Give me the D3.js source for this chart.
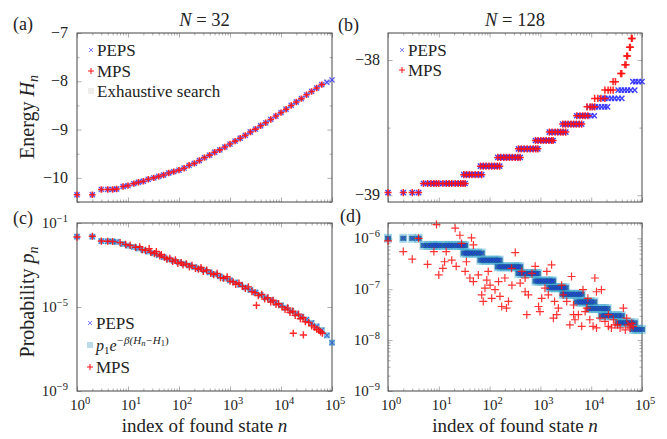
<!DOCTYPE html>
<html>
<head>
<meta charset="utf-8">
<script src="https://cdn.jsdelivr.net/npm/d3@7"></script>
<style>
body { margin: 0; background: #fff; }
</style>
</head>
<body>
<svg id="fig" width="667" height="439" font-family="'Liberation Serif', 'DejaVu Serif', serif"></svg>
<script>
// ---- values ----

// N = 32: index n of found state, shared by panels (a) and (c)
const nSmall = [1, 2, 3, 4, 5, 6, 8, 10, 13, 16, 20, 25, 32, 40, 50, 63, 79, 100, 126, 158,
	200, 251, 316, 398, 501, 631, 794, 1000, 1259, 1585, 1995, 2512, 3162, 3981, 5012, 6310,
	7943, 10000, 12589, 15849, 19953, 25119, 31623, 39811, 50119, 63096, 79433, 100000];
// energy H_n of those states (exhaustive search, PEPS agrees)
const energySmall = [-10.35, -10.35, -10.24, -10.24, -10.24, -10.23, -10.18, -10.16, -10.12, -10.09,
	-10.07, -10.03, -10.0, -9.97, -9.94, -9.9, -9.87, -9.84, -9.8, -9.74, -9.7, -9.64, -9.58, -9.53,
	-9.47, -9.42, -9.36, -9.3, -9.24, -9.18, -9.12, -9.05, -8.99, -8.92, -8.86, -8.79, -8.72, -8.65,
	-8.58, -8.5, -8.43, -8.36, -8.28, -8.21, -8.14, -8.07, -8.02, -7.97];
// log10 of p1 e^{-beta(H_n - H_1)} for those states
const logPSmall = [-1.65, -1.65, -1.86, -1.87, -1.88, -1.9, -2.0, -2.08, -2.14, -2.21, -2.29, -2.36,
	-2.44, -2.53, -2.63, -2.73, -2.8, -2.87, -2.94, -3.02, -3.1, -3.17, -3.25, -3.35, -3.44, -3.54,
	-3.64, -3.73, -3.83, -3.94, -4.07, -4.19, -4.31, -4.43, -4.55, -4.67, -4.8, -4.92, -5.04, -5.18,
	-5.32, -5.46, -5.6, -5.76, -5.92, -6.1, -6.35, -6.7];
// MPS stops a bit earlier than PEPS for N = 32
const mpsMaxNSmall = 63096;
// MPS sampled probabilities for N = 32: [n, log10 p]
const mpsProbSmall = [[1, -1.67], [2, -1.63], [3, -1.86], [4, -1.87], [5, -1.88], [7, -1.93], [9, -2.02],
	[11, -2.07], [14, -2.16], [17, -2.13], [19, -2.27], [22, -2.3], [26, -2.22], [28, -2.4], [33, -2.46],
	[36, -2.36], [42, -2.57], [45, -2.5], [52, -2.64], [58, -2.72], [66, -2.68], [75, -2.83], [85, -2.76],
	[95, -2.92], [110, -2.88], [120, -3.0], [140, -2.95], [160, -3.09], [180, -3.02], [210, -3.16],
	[240, -3.2], [270, -3.12], [300, -3.3], [350, -3.24], [420, -3.4], [480, -3.46], [560, -3.4],
	[650, -3.6], [750, -3.63], [880, -3.56], [1000, -3.77], [1150, -3.8], [1300, -3.92], [1500, -3.86],
	[1750, -4.02], [2000, -4.12], [2300, -4.04], [2700, -4.27], [3100, -4.32], [3300, -4.92], [3600, -4.46],
	[4200, -4.4], [4800, -4.62], [5500, -4.56], [6300, -4.76], [7000, -4.68], [8000, -4.88], [9000, -4.84],
	[10500, -5.0], [12000, -5.12], [13500, -5.04], [15000, -5.26], [17000, -5.2], [17400, -6.25],
	[19000, -5.4], [22000, -5.34], [24000, -5.56], [27000, -5.5], [27500, -6.33], [30000, -5.7],
	[35000, -5.74], [40000, -5.9], [45000, -5.96], [50000, -6.06], [55000, -6.1], [60000, -6.18], [65000, -6.25]];

// N = 128: degenerate energy levels
const levelEnergyBig = [-38.98, -38.913, -38.848, -38.785, -38.72, -38.657, -38.595, -38.533, -38.474,
	-38.412, -38.346, -38.284, -38.222, -38.16, -38.1, -38.035, -37.97, -37.906, -37.84];
// log10 of p1 e^{-beta(H_n - H_1)} for the levels PEPS reached
const levelLogPBig = [-6.0, -6.14, -6.29, -6.43, -6.56, -6.69, -6.84, -6.97, -7.1, -7.25, -7.38, -7.52, -7.66, -7.79];
// state indices found by PEPS, per level
const pepsLevelNBig = [
	[1, 2, 3, 4],
	[5, 6, 7, 8, 9, 10, 12, 14, 16, 18, 21, 24, 27, 30, 33],
	[31, 35, 40, 45, 52, 60, 70],
	[66, 75, 85, 97, 110, 125, 142, 158],
	[145, 165, 190, 215, 245, 280, 320, 360, 400],
	[370, 420, 480, 550, 630, 720, 810, 890],
	[800, 900, 1020, 1150, 1300, 1470, 1660, 1780],
	[1500, 1700, 1950, 2200, 2500, 2800, 3160],
	[2750, 3100, 3500, 4000, 4500, 5100, 5800, 6500],
	[5200, 6000, 6800, 7600, 8600, 9800, 11500],
	[9000, 10500, 12000, 13800, 16000, 18500, 21000],
	[16000, 18600, 21500, 25000, 29000, 34000, 40000],
	[34000, 39000, 45000, 52000, 60000, 72000],
	[66000, 75000, 86000, 100000]
];
// state indices found by MPS, per level
const mpsLevelNBig = [
	[1, 2, 3, 4],
	[5, 6, 7, 8, 9, 10, 12, 14, 16, 18, 21, 24, 27, 30, 33],
	[31, 35, 40, 45, 52, 60, 70],
	[66, 75, 85, 97, 110, 125, 142, 158],
	[145, 165, 190, 215, 245, 280, 320, 360, 400],
	[370, 420, 480, 550, 630, 720, 810, 890],
	[800, 900, 1020, 1150, 1300, 1470, 1660, 1780],
	[1500, 1700, 1950, 2200, 2500, 2800, 3160],
	[2750, 3100, 3500, 4000, 4500, 5100, 5800, 6500],
	[5200, 6000, 6800, 7600, 8600],
	[8300, 9500, 10500, 11700],
	[11700, 13500, 15500, 18600],
	[18600, 21500, 24000, 27000],
	[27000, 30000],
	[38000, 40000],
	[46000, 48500],
	[50000, 52000],
	[57000, 59000],
	[62000, 64000]
];
// MPS sampled probabilities for N = 128: [n, log10 p]
const mpsProbBig = [[1, -6.05], [2, -6.26], [3, -6.41], [4, -6.0], [6, -6.51], [8, -6.26], [9, -5.73],
	[10, -6.72], [12, -6.59], [13, -6.46], [14, -6.26], [18, -6.43], [21, -5.8], [22, -6.55], [26, -5.94],
	[28, -6.1], [33, -6.65], [35, -6.46], [41, -6.78], [44, -5.99], [48, -6.13], [48, -6.85], [60, -6.72],
	[70, -7.11], [75, -7.24], [81, -6.98], [88, -6.82], [94, -6.65], [102, -6.92], [110, -7.18], [128, -7.01],
	[150, -6.85], [160, -7.14], [173, -7.34], [200, -6.78], [215, -7.37], [235, -7.24], [270, -6.59],
	[275, -6.92], [320, -6.28], [400, -6.88], [430, -6.65], [500, -7.05], [500, -6.78], [540, -7.5],
	[580, -7.11], [680, -6.69], [790, -6.55], [920, -7.34], [980, -7.44], [1060, -7.18], [1230, -6.98],
	[1340, -6.65], [1430, -7.11], [1660, -6.52], [1800, -7.57], [1900, -7.24], [2100, -7.5], [2260, -7.37],
	[2620, -6.92], [2800, -7.11], [3300, -7.24], [3800, -7.7], [4100, -6.75], [4500, -7.31], [4500, -7.5],
	[4800, -7.6], [5600, -7.5], [6500, -7.73], [6900, -7.01], [7600, -7.44], [8200, -7.37], [8600, -7.18],
	[9400, -7.6], [10900, -7.73], [11800, -6.78], [12700, -7.76], [12700, -7.05], [14900, -7.57],
	[15900, -7.01], [18700, -7.63], [21800, -7.73], [21800, -7.5], [25000, -7.76], [27400, -7.6],
	[29500, -7.7], [33000, -7.7], [37000, -7.76], [43000, -7.37], [47000, -7.8], [50000, -7.57],
	[53000, -7.7], [58000, -7.76], [63000, -7.67], [67000, -7.73]];

const xDecades = [0, 1, 2, 3, 4, 5];

// ---- drawing ----
const svg = d3.select("#fig");
const pepsColor = "#2b2bff", mpsColor = "#ff1010", curveColor = "#1d86b4", exhColor = "#c9c0c0";
const stepColor = "#155f8c";

const plusPath = r => `M${-r},0H${r}M0,${-r}V${r}`;
const crossPath = r => `M${-r},${-r}L${r},${r}M${-r},${r}L${r},${-r}`;

function panel(box) {
	const x = d3.scaleLog().domain([1, 1e5]).range([box.x0, box.x1]);
	let y;
	if (box.logY) y = d3.scaleLog().domain(box.yDomain).range([box.y1, box.y0]);
	else y = d3.scaleLinear().domain(box.yDomain).range([box.y1, box.y0]);
	const g = svg.append("g");
	return { x, y, g, box };
}

function styleAxis(sel) {
	sel.select(".domain").remove();
	sel.selectAll(".tick line").attr("stroke", "#9a9a9a").attr("stroke-width", 0.8);
	sel.selectAll(".tick text").remove();
	sel.attr("font-family", null);
}

function drawFrame(p, yMajor, yMinor) {
	const { x, y, g, box } = p;
	const major = xDecades.map(k => 10 ** k);
	const minor = x.ticks().filter(t => !major.includes(t));
	[[d3.axisBottom, box.y1], [d3.axisTop, box.y0]].forEach(([ax, pos]) => {
		g.append("g").attr("transform", `translate(0,${pos})`)
			.call(ax(x).tickValues(major).tickSize(-4.5)).call(styleAxis);
		g.append("g").attr("transform", `translate(0,${pos})`)
			.call(ax(x).tickValues(minor).tickSize(-2.5)).call(styleAxis);
	});
	[[d3.axisLeft, box.x0], [d3.axisRight, box.x1]].forEach(([ax, pos]) => {
		g.append("g").attr("transform", `translate(${pos},0)`)
			.call(ax(y).tickValues(yMajor).tickSize(-4.5)).call(styleAxis);
		if (yMinor.length)
			g.append("g").attr("transform", `translate(${pos},0)`)
				.call(ax(y).tickValues(yMinor).tickSize(-2.5)).call(styleAxis);
	});
	g.append("rect").attr("x", box.x0).attr("y", box.y0)
		.attr("width", box.x1 - box.x0).attr("height", box.y1 - box.y0)
		.attr("fill", "none").attr("stroke", "#444").attr("stroke-width", 1);
}

function powLabel(g, px, py, exp, anchor) {
	const t = g.append("text").attr("x", px).attr("y", py).attr("font-size", 15)
		.attr("text-anchor", anchor).attr("fill", "#222");
	t.append("tspan").text("10");
	t.append("tspan").attr("dy", -6.5).attr("font-size", 10.5)
		.text(exp < 0 ? "\u2212" + (-exp) : String(exp));
}

function xLabels(p) {
	const { x, g, box } = p;
	xDecades.forEach(k => powLabel(g, x(10 ** k) + 3, box.y1 + 19, k, "middle"));
	const t = g.append("text").attr("x", (box.x0 + box.x1) / 2).attr("y", 432)
		.attr("text-anchor", "middle").attr("font-size", 19).attr("fill", "#222");
	t.append("tspan").text("index of found state ");
	t.append("tspan").attr("font-style", "italic").text("n");
}

function points(p, data, shape, color, r, width, opacity) {
	const { x, y, g } = p;
	return g.append("g").selectAll("path").data(data).join("path")
		.attr("transform", d => `translate(${x(d[0])},${y(d[1])})`)
		.attr("d", shape === "plus" ? plusPath(r) : crossPath(r))
		.attr("fill", "none").attr("stroke", color).attr("stroke-width", width)
		.attr("stroke-opacity", opacity);
}

function squares(p, data, color, w, h, opacity) {
	const { x, y, g } = p;
	g.append("g").selectAll("rect").data(data).join("rect")
		.attr("x", d => x(d[0]) - w / 2).attr("y", d => y(d[1]) - h / 2)
		.attr("width", w).attr("height", h)
		.attr("fill", color).attr("fill-opacity", opacity);
}

function legend(g, x0, rows) {
	rows.forEach(r => {
		if (r.kind === "cross") g.append("path").attr("transform", `translate(${x0},${r.y})`)
			.attr("d", crossPath(2)).attr("stroke", pepsColor).attr("stroke-opacity", 0.6).attr("fill", "none");
		if (r.kind === "plus") g.append("path").attr("transform", `translate(${x0},${r.y})`)
			.attr("d", plusPath(3)).attr("stroke", mpsColor).attr("fill", "none");
		if (r.kind === "square") g.append("rect").attr("x", x0 - 3).attr("y", r.y - 3)
			.attr("width", 6).attr("height", 6).attr("fill", r.color).attr("fill-opacity", 0.3);
		const t = g.append("text").attr("x", x0 + 6).attr("y", r.y + 5.5).attr("font-size", 17)
			.attr("fill", "#222");
		r.text(t);
	});
}

function yTitle(text, cy, sub) {
	const t = svg.append("text").attr("transform", `translate(34,${cy}) rotate(-90)`)
		.attr("text-anchor", "middle").attr("font-size", 20).attr("fill", "#222");
	t.append("tspan").text(text);
	t.append("tspan").attr("font-style", "italic").text(sub[0]);
	t.append("tspan").attr("font-size", 14).attr("dy", 4).attr("font-style", "italic").text(sub[1]);
}

function plain(g, px, py, str, size, anchor) {
	return g.append("text").attr("x", px).attr("y", py).attr("font-size", size)
		.attr("text-anchor", anchor || "start").attr("fill", "#222").text(str);
}

function title(g, cx, num) {
	const t = g.append("text").attr("x", cx).attr("y", 26).attr("font-size", 18.5)
		.attr("text-anchor", "middle").attr("fill", "#222");
	t.append("tspan").attr("font-style", "italic").text("N");
	t.append("tspan").text(" = " + num);
}

// (a) energy, N = 32
const pa = panel({ x0: 77, x1: 332, y0: 33, y1: 202, yDomain: [-10.5, -7] });
drawFrame(pa, [-10, -9, -8, -7], [-10.5, -9.5, -8.5, -7.5]);
[-10, -9, -8, -7].forEach(v => plain(pa.g, 68, pa.y(v) + 5, "\u2212" + (-v), 16, "end"));
const ptsA = nSmall.map((n, i) => [n, energySmall[i]]);
squares(pa, ptsA, exhColor, 6, 6, 0.35);
points(pa, ptsA, "cross", pepsColor, 2.5, 1.2, 0.8);
points(pa, ptsA.filter(d => d[0] <= mpsMaxNSmall), "plus", mpsColor, 3.2, 1.6, 0.9);
legend(pa.g, 91, [
	{ kind: "cross", y: 50, text: t => t.text("PEPS") },
	{ kind: "plus", y: 71, text: t => t.text("MPS") },
	{ kind: "square", y: 91, color: exhColor, text: t => t.text("Exhaustive search") }
]);
title(pa.g, 204.5, 32);
plain(pa.g, 13, 30, "(a)", 18);

// (b) energy, N = 128
const pb = panel({ x0: 388, x1: 642, y0: 33, y1: 202, yDomain: [-39.05, -37.8] });
drawFrame(pb, [-39, -38], [-38.5]);
plain(pb.g, 380, pb.y(-38) + 5, "\u221238", 16, "end");
plain(pb.g, 380, pb.y(-39) + 5, "\u221239", 16, "end");
const pepsB = pepsLevelNBig.flatMap((ns, i) => ns.map(n => [n, levelEnergyBig[i]]));
const mpsB = mpsLevelNBig.flatMap((ns, i) => ns.map(n => [n, levelEnergyBig[i]]));
points(pb, pepsB, "cross", pepsColor, 2.6, 1.4, 0.9);
points(pb, mpsB, "plus", mpsColor, 3.6, 1.5, 0.9);
legend(pb.g, 402, [
	{ kind: "cross", y: 50, text: t => t.text("PEPS") },
	{ kind: "plus", y: 70, text: t => t.text("MPS") }
]);
title(pb.g, 515, 128);
plain(pb.g, 338, 31, "(b)", 18);

// (c) probability, N = 32
const pc = panel({ x0: 77, x1: 332, y0: 223, y1: 391, yDomain: [1e-9, 1e-1], logY: true });
drawFrame(pc, [1e-9, 1e-5, 1e-1], []);
[-9, -5, -1].forEach(k => powLabel(pc.g, 68, pc.y(10 ** k) + 5, k, "end"));
const ptsC = nSmall.map((n, i) => [n, 10 ** logPSmall[i]]);
points(pc, ptsC, "cross", pepsColor, 2.5, 1.1, 0.75);
squares(pc, ptsC, curveColor, 6, 6, 0.5);
points(pc, mpsProbSmall.map(d => [d[0], 10 ** d[1]]), "plus", mpsColor, 3.6, 1.4, 0.9);
legend(pc.g, 90, [
	{ kind: "cross", y: 323, text: t => t.text("PEPS") },
	{ kind: "square", y: 345, color: curveColor, text: t => {
		t.attr("font-size", 16);
		t.append("tspan").attr("font-style", "italic").text("p");
		t.append("tspan").attr("font-size", 11).attr("dy", 3).text("1");
		t.append("tspan").attr("font-style", "italic").attr("dy", -3).text("e");
		t.append("tspan").attr("font-size", 11).attr("dy", -7).attr("font-style", "italic")
			.text("\u2212\u03b2(H");
		t.append("tspan").attr("font-size", 8.5).attr("dy", 2).attr("font-style", "italic").text("n");
		t.append("tspan").attr("font-size", 11).attr("dy", -2).attr("font-style", "italic").text("\u2212H");
		t.append("tspan").attr("font-size", 8.5).attr("dy", 2).text("1");
		t.append("tspan").attr("font-size", 11).attr("dy", -2).text(")");
	} },
	{ kind: "plus", y: 367, text: t => t.text("MPS") }
]);
xLabels(pc);
plain(pc.g, 13, 224, "(c)", 18);

// (d) probability, N = 128
const pd = panel({ x0: 388, x1: 642, y0: 223, y1: 391, yDomain: [1e-9, 2e-6], logY: true });
const dMajor = [1e-9, 1e-8, 1e-7, 1e-6];
drawFrame(pd, dMajor, pd.y.ticks().filter(t => !dMajor.some(m => Math.abs(m - t) / m < 1e-6)));
[-9, -8, -7, -6].forEach(k => powLabel(pd.g, 380, pd.y(10 ** k) + 5, k, "end"));
const stepsD = pepsLevelNBig.flatMap((ns, i) => ns.map(n => [n, 10 ** levelLogPBig[i]]));
squares(pd, stepsD, "#3aa6cf", 8, 9, 0.45);
squares(pd, stepsD, stepColor, 6, 5, 0.8);
points(pd, stepsD, "cross", pepsColor, 2.3, 1, 0.6);
points(pd, mpsProbBig.map(d => [d[0], 10 ** d[1]]), "plus", mpsColor, 4, 1.2, 0.85);
xLabels(pd);
plain(pd.g, 340, 222, "(d)", 18);

yTitle("Energy ", 117, ["H", "n"]);
yTitle("Probability ", 302, ["p", "n"]);
</script>
</body>
</html>
